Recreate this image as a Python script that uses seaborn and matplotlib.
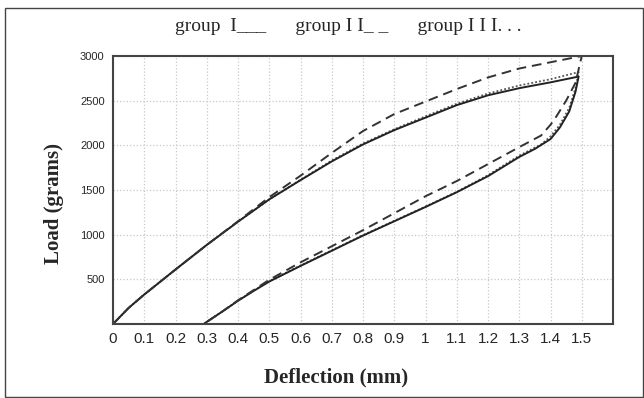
import numpy as np
import matplotlib
matplotlib.use("Agg")
import matplotlib.pyplot as plt
import seaborn as sns
from matplotlib.patches import Rectangle

# group I (solid): loading then unloading
x_g1 = [0, 0.05, 0.1, 0.2, 0.3, 0.4, 0.5, 0.6, 0.7, 0.8, 0.9, 1.0, 1.1, 1.2, 1.3, 1.4, 1.49,
        1.48, 1.46, 1.43, 1.4, 1.35, 1.3, 1.2, 1.1, 1.0, 0.9, 0.8, 0.7, 0.6, 0.5, 0.45, 0.4, 0.35, 0.29]
y_g1 = [0, 180, 330, 610, 885, 1145, 1395, 1610, 1820, 2010, 2170, 2310, 2450, 2560, 2640, 2705, 2770,
        2600, 2380, 2200, 2070, 1960, 1870, 1655, 1475, 1310, 1150, 990, 820, 650, 475, 370, 260, 140, 0]

# group II (dashed)
x_g2 = [0, 0.05, 0.1, 0.2, 0.3, 0.4, 0.5, 0.6, 0.7, 0.8, 0.9, 1.0, 1.1, 1.2, 1.3, 1.4, 1.5,
        1.48, 1.45, 1.42, 1.4, 1.37, 1.3, 1.2, 1.1, 1.0, 0.9, 0.8, 0.7, 0.6, 0.5, 0.45, 0.4, 0.35, 0.29]
y_g2 = [0, 180, 330, 610, 885, 1150, 1420, 1660, 1915, 2160, 2350, 2490, 2630, 2760, 2860, 2930, 3000,
        2700, 2500, 2330, 2230, 2110, 1980, 1790, 1600, 1430, 1240, 1050, 870, 690, 495, 380, 265, 140, 0]

# group III (dotted)
x_g3 = [0, 0.05, 0.1, 0.2, 0.3, 0.4, 0.5, 0.6, 0.7, 0.8, 0.9, 1.0, 1.1, 1.2, 1.3, 1.4, 1.49,
        1.48, 1.46, 1.43, 1.4, 1.37, 1.3, 1.2, 1.1, 1.0, 0.9, 0.8, 0.7, 0.6, 0.5, 0.45, 0.4, 0.35, 0.29]
y_g3 = [0, 180, 330, 610, 885, 1145, 1395, 1615, 1830, 2020, 2180, 2325, 2465, 2580, 2670, 2740, 2820,
        2640, 2420, 2230, 2100, 2010, 1885, 1665, 1480, 1315, 1155, 995, 825, 655, 480, 372, 262, 140, 0]

x_ticks = np.round(np.arange(0, 1.61, 0.1), 1)
x_labels = ["0", "0.1", "0.2", "0.3", "0.4", "0.5", "0.6", "0.7", "0.8", "0.9",
            "1", "1.1", "1.2", "1.3", "1.4", "1.5", ""]
y_ticks = [0, 500, 1000, 1500, 2000, 2500, 3000]
y_labels = ["", "500", "1000", "1500", "2000", "2500", "3000"]

sns.set_style("white")
fig = plt.figure(figsize=(6.44, 3.98), dpi=100)
ax = fig.add_axes([113 / 644, 1 - 324 / 398, 500 / 644, 268 / 398])

sns.lineplot(x=x_g3, y=y_g3, sort=False, estimator=None, ax=ax,
             color="#555555", linestyle=(0, (1, 1.2)), linewidth=1.3)
sns.lineplot(x=x_g1, y=y_g1, sort=False, estimator=None, ax=ax,
             color="#222222", linewidth=1.4)
sns.lineplot(x=x_g2, y=y_g2, sort=False, estimator=None, ax=ax,
             color="#333333", linestyle=(0, (5, 3)), linewidth=1.4)

ax.set_xlim(0, 1.6)
ax.set_ylim(0, 3000)
ax.set_xticks(x_ticks)
ax.set_xticklabels(x_labels, fontsize=11, fontfamily="Liberation Sans")
ax.set_yticks(y_ticks)
ax.set_yticklabels(y_labels, fontsize=8, fontfamily="Liberation Sans")
ax.tick_params(axis="both", direction="out", length=3, width=1, color="#333333", pad=3)
ax.grid(True, color="#c8c8c8", linestyle=":", linewidth=0.9)
for s in ax.spines.values():
    s.set_color("#444444")
    s.set_linewidth(1.5)

ax.set_xlabel("Deflection (mm)", fontsize=15, fontweight="bold",
              fontfamily="Liberation Serif", va="center", ha="center")
ax.xaxis.set_label_coords(0.446, -0.198)
ax.set_ylabel("Load (grams)", fontsize=15, fontweight="bold",
              fontfamily="Liberation Serif", va="center", ha="center")
ax.yaxis.set_label_coords(-0.118, 0.451)

fig.text(0.540, 1 - 31 / 398, "group  I___      group I I_ _      group I I I. . .",
         ha="center", va="baseline", fontsize=14, fontfamily="Liberation Serif")

fig.patches.append(Rectangle((0.008, 0.003), 0.99, 0.977, transform=fig.transFigure,
                             fill=False, edgecolor="#444444", linewidth=1))

fig.savefig("out.png", dpi=100)
